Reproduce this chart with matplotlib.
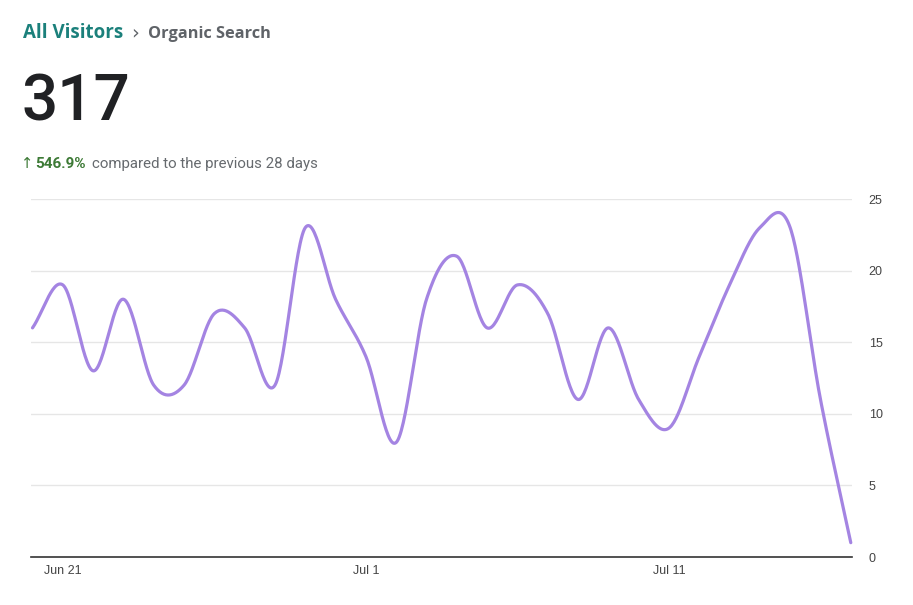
import numpy as np
import matplotlib
matplotlib.use("Agg")
import matplotlib.pyplot as plt

# ---- data ----
days = list(range(28))  # Jun 20 .. Jul 17
visitors = [16, 19, 13, 18, 12, 12, 17, 16, 12, 23, 18, 14, 8, 18,
            21, 16, 19, 17, 11, 16, 11, 9, 14, 19, 23, 23, 11, 1]
tick_days = [1, 11, 21]
tick_labels = ["Jun 21", "Jul 1", "Jul 11"]
y_ticks = [0, 5, 10, 15, 20, 25]
total = "317"
change = "546.9%"
title_main = "All Visitors"
title_sub = "Organic Search"
compare_text = "compared to the previous 28 days"

LINE = "#a484e2"


def catmull_rom(x, y, n=30):
    x = np.asarray(x, float)
    y = np.asarray(y, float)
    m = np.zeros_like(y)
    m[1:-1] = (y[2:] - y[:-2]) / 2.0
    m[0] = y[1] - y[0]
    m[-1] = y[-1] - y[-2]
    xs, ys = [], []
    for i in range(len(x) - 1):
        t = np.linspace(0, 1, n, endpoint=False)
        h00 = 2 * t**3 - 3 * t**2 + 1
        h10 = t**3 - 2 * t**2 + t
        h01 = -2 * t**3 + 3 * t**2
        h11 = t**3 - t**2
        dx = x[i + 1] - x[i]
        xs.append(x[i] + t * dx)
        ys.append(h00 * y[i] + h10 * m[i] * dx + h01 * y[i + 1] + h11 * m[i + 1] * dx)
    xs.append([x[-1]])
    ys.append([y[-1]])
    return np.concatenate(xs), np.concatenate(ys)


W, H = 913, 605
fig = plt.figure(figsize=(W / 100, H / 100), dpi=100)
fig.patch.set_facecolor("white")

ax = fig.add_axes([31 / W, 1 - 557 / H, (852 - 31) / W, (557 - 199) / H])
sx, sy = catmull_rom(days, visitors)
ax.plot(sx, sy, color=LINE, lw=2.3, solid_capstyle="round", clip_on=False, zorder=3)

ax.set_xlim(-0.05, 27.04)
ax.set_ylim(0, 25)
ax.set_yticks(y_ticks)
for v in y_ticks[1:]:
    ax.axhline(v, color="#e6e6e6", lw=1, zorder=1)
ax.yaxis.tick_right()
ax.tick_params(axis="y", length=0, pad=12, labelsize=9, labelcolor="#444444")
for lab in ax.get_yticklabels():
    lab.set_family("Liberation Sans")
ax.set_xticks(tick_days)
ax.set_xticklabels(tick_labels, family="Liberation Sans")
ax.tick_params(axis="x", length=0, pad=6, labelsize=9, labelcolor="#444444")
for s in ["top", "right", "left"]:
    ax.spines[s].set_visible(False)
ax.spines["bottom"].set_color("#333333")
ax.spines["bottom"].set_linewidth(1.2)
ax.set_facecolor("white")


def fy(py):
    return 1 - py / H


fig.text(23 / W, fy(37.5), title_main, fontsize=13.5, fontweight="bold",
         color="#1b807b", family="Open Sans", va="baseline")
fig.text(131 / W, fy(38), "\u203a", fontsize=14, color="#5f6368",
         family="DejaVu Sans", va="baseline")
fig.text(148 / W, fy(37.5), title_sub, fontsize=11.8, fontweight="bold",
         color="#5f6368", family="Open Sans", va="baseline")
fig.text(21 / W, fy(120.7), total, fontsize=46, fontweight="medium",
         color="#202124", family="Roboto", va="baseline")
fig.text(21 / W, fy(168.3), "\u2191", fontsize=10.5, color="#3d7a36",
         family="DejaVu Sans", va="baseline")
fig.text(35 / W, fy(168.3), change, fontsize=11, fontweight="bold",
         color="#3d7a36", family="Roboto", va="baseline")
fig.text(92 / W, fy(168.3), compare_text, fontsize=10.8,
         color="#666a6e", family="Roboto", va="baseline")

fig.savefig("out.png", dpi=100, facecolor="white")
